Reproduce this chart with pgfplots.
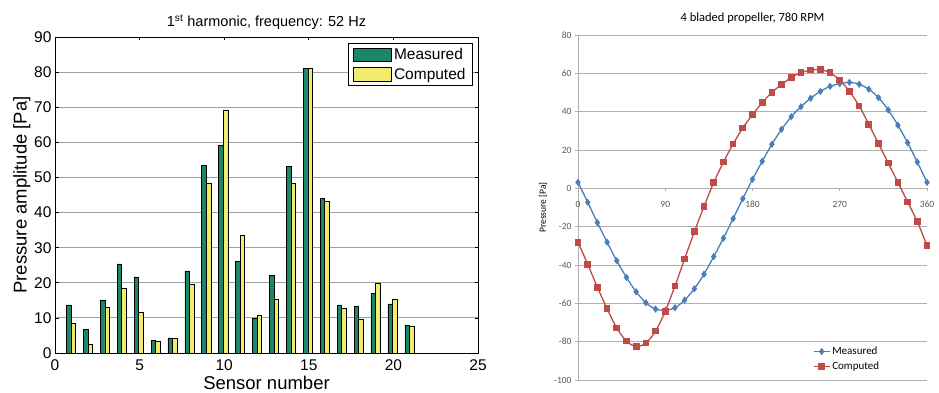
\documentclass[border=0pt]{standalone}
\usepackage{pgfplots}
\pgfplotsset{compat=1.18}
\usepackage{fontspec}
\setmainfont{Liberation Sans}
\newfontfamily\carlito{Carlito}
\definecolor{mgreen}{RGB}{27,134,106}
\definecolor{cyellow}{RGB}{242,236,110}
\definecolor{eblue}{RGB}{74,126,187}
\definecolor{ered}{RGB}{190,75,72}
\definecolor{gridgray}{RGB}{160,160,160}
\definecolor{lgray}{RGB}{175,175,175}
\definecolor{tgray}{RGB}{89,89,89}
\begin{document}
\begin{tikzpicture}
\useasboundingbox (0pt,0pt) rectangle (939pt,393pt);
% ---------------- left chart ----------------
\begin{axis}[
  at={(55pt,40pt)}, anchor=south west, scale only axis,
  width=423pt, height=316pt,
  xmin=0, xmax=25, ymin=0, ymax=90,
  xtick={0,5,...,25}, ytick={0,10,...,90},
  ymajorgrids, grid style={gridgray, line width=0.8pt},
  tick align=inside, xtick pos=both, ytick pos=both,
  major tick length=3.5pt,
  axis line style={line width=0.9pt},
  tick style={line width=0.7pt, black},
  tick label style={font=\fontsize{15.5}{16}\selectfont},
  xticklabel style={yshift=-3pt},
  /pgf/number format/assume math mode=true,
  xlabel={Sensor number}, ylabel={Pressure amplitude [Pa]},
  label style={font=\fontsize{18.5}{19}\selectfont},
  xlabel style={yshift=1pt},
  ylabel style={yshift=-3pt},
  title={1\textsuperscript{st} harmonic, frequency: 52 Hz},
  title style={font=\fontsize{14.5}{15}\selectfont, yshift=-2pt},
  legend style={at={(1,1)}, anchor=north east, xshift=-5pt, yshift=-6pt,
    draw=black, line width=0.9pt, font=\fontsize{15.5}{16}\selectfont,
    inner xsep=5pt, inner ysep=3pt, row sep=3pt},
  legend cell align=left,
  legend image code/.code={\draw[#1, line width=0.6pt] (0pt,-6.5pt) rectangle (38pt,7pt);},
]
\addplot[ybar, bar width=0.27, bar shift=-0.19, fill=mgreen, draw=black, line width=0.6pt]
  coordinates {(1,13.7) (2,6.8) (3,15.1) (4,25.4) (5,21.7) (6,3.5) (7,4.3) (8,23.4) (9,53.4) (10,59.2) (11,26.0) (12,9.8) (13,22.0) (14,53.2) (15,81.0) (16,44.0) (17,13.7) (18,13.4) (19,17.0) (20,14.0) (21,7.9)};
\addlegendentry{Measured}
\addplot[ybar, bar width=0.27, bar shift=0.08, fill=cyellow, draw=black, line width=0.6pt]
  coordinates {(1,8.4) (2,2.6) (3,12.9) (4,18.4) (5,11.5) (6,3.4) (7,4.1) (8,19.5) (9,48.2) (10,69.0) (11,33.5) (12,10.6) (13,15.4) (14,48.4) (15,81.0) (16,43.2) (17,12.6) (18,9.5) (19,19.8) (20,15.4) (21,7.6)};
\addlegendentry{Computed}
\end{axis}
% ---------------- right chart ----------------
\begin{axis}[
  at={(578pt,13pt)}, anchor=south west, scale only axis,
  width=349pt, height=345pt,
  xmin=0, xmax=360, ymin=-100, ymax=80,
  xtick={0,90,180,270,360}, ytick={-100,-80,...,80},
  axis x line=middle, axis y line=left,
  hide obscured x ticks=false, hide obscured y ticks=false,
  axis line style={-, lgray, line width=0.9pt},
  ymajorgrids, grid style={lgray, line width=0.9pt},
  tick align=outside, major tick length=3pt,
  tick style={lgray, line width=0.8pt},
  tick label style={font=\carlito\fontsize{9.5}{10}\selectfont, text=tgray},
  /pgf/number format/assume math mode=true,
  xticklabel style={yshift=-6pt},
  ylabel={Pressure [Pa]},
  ylabel style={font=\carlito\fontsize{9.5}{10}\selectfont, text=black},
  title={4 bladed propeller, 780 RPM},
  title style={font=\carlito\fontsize{12.5}{13}\selectfont, yshift=2pt},
  legend style={at={(0.67,0.105)}, anchor=north west, draw=none, fill=none,
    font=\carlito\fontsize{11}{12}\selectfont, inner sep=1pt, row sep=2pt},
  legend cell align=left,
  legend image code/.code={\draw[#1, mark repeat=2, mark phase=2] plot coordinates {(0pt,0pt) (8pt,0pt) (16pt,0pt)};},
]
\addplot[eblue, line width=1.3pt, smooth, mark=diamond*, mark size=2.6pt, mark options={solid}]
  coordinates {(0,3.1) (10,-7.3) (20,-17.9) (30,-28.1) (40,-37.8) (50,-46.5) (60,-54.0) (70,-59.7) (80,-63.0) (90,-63.7) (100,-62.3) (110,-58.3) (120,-52.4) (130,-44.8) (140,-35.6) (150,-26.0) (160,-15.8) (170,-5.4) (180,4.7) (190,14.1) (200,23.0) (210,30.8) (220,37.4) (230,42.6) (240,47.0) (250,50.6) (260,53.2) (270,54.6) (280,55.3) (290,54.3) (300,51.7) (310,47.3) (320,40.9) (330,32.9) (340,23.8) (350,13.7) (360,3.1)};
\addlegendentry{Measured}
\addplot[ered, line width=1.3pt, smooth, mark=square*, mark size=2.7pt, mark options={solid}]
  coordinates {(0,-28.1) (10,-39.6) (20,-51.6) (30,-62.8) (40,-72.9) (50,-79.7) (60,-82.6) (70,-80.7) (80,-74.5) (90,-64.1) (100,-51.0) (110,-36.8) (120,-22.7) (130,-9.4) (140,3.0) (150,13.7) (160,23.1) (170,31.5) (180,38.4) (190,44.7) (200,50.1) (210,54.1) (220,57.9) (230,60.3) (240,61.7) (250,61.9) (260,60.3) (270,56.5) (280,50.6) (290,43.0) (300,33.4) (310,23.3) (320,13.2) (330,3.1) (340,-7.1) (350,-17.4) (360,-29.9)};
\addlegendentry{Computed}
\end{axis}
\end{tikzpicture}
\end{document}
